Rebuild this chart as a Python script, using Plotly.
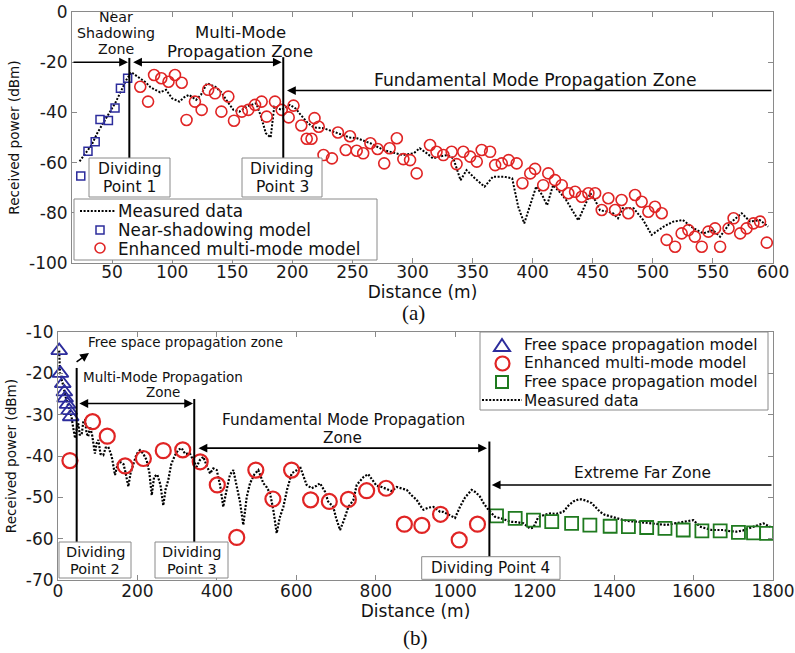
import plotly.graph_objects as go

# ---------------- data: panel (a) ----------------
a_meas_x = [23, 28, 33, 38, 43, 48, 53, 58, 62, 66, 73, 78, 82, 86, 90, 95, 100, 106, 110, 114, 120, 124, 129,
            136, 141, 145, 151, 156, 162, 166, 170, 174, 178, 182, 185, 191, 198, 203, 206, 213, 218, 226, 237,
            248, 254, 262, 265, 276, 286, 292, 301, 306, 312, 317, 323, 329, 334, 340, 345, 352, 360, 367, 376,
            383, 388, 393, 403, 408, 412, 417, 423, 428, 438, 448, 452, 456, 462, 467, 471, 475, 484, 492, 499,
            509, 517, 525, 534, 542, 550, 556, 564, 574, 581, 589, 596]
a_meas_y = [-59.5, -56, -53, -48, -44, -40, -36, -31, -27, -24, -26.4, -28, -30, -31, -32, -31, -34.4, -35.7, -34,
            -33, -35, -33, -28.4, -29.8, -32, -35, -39, -39.7, -37.7, -37, -36.4, -41.7, -48.3, -50, -37.7, -39,
            -37, -38.5, -40.4, -44.3, -46, -46.3, -48.3, -50, -50.3, -51.7, -52.3, -55, -56.3, -57, -56.3, -54.3,
            -56.3, -58.3, -57.5, -57, -58.3, -67, -63, -66.3, -69.6, -65.6, -65.6, -66.3, -77.6, -84.2, -69.5,
            -73, -77, -69, -72, -75, -83, -72.2, -75, -79, -79.5, -80.2, -82.2, -78.2, -78.2, -82.9, -88.8, -85.5,
            -83.5, -82.9, -86.2, -88.2, -86.9, -89.5, -84.2, -80.2, -83.5, -82.9, -85.5]

a_near_x = [24, 30, 36, 40, 47, 52.5, 57, 63]
a_near_y = [-65.3, -55.5, -51.7, -42.8, -43.2, -38.2, -30.4, -26.4]

a_mm_x = [73.5, 80, 85, 91, 97, 102.4, 108, 112, 119, 124.6, 130, 135.7, 141, 146.8, 151.5, 158, 163.4, 169,
          174.5, 178.7, 185.6, 191.2, 197, 201, 207.5, 212, 216, 218.5, 222, 226, 233, 238, 244.5, 248, 253.6,
          259, 265, 271, 276.5, 281, 287, 292.4, 298, 303.5, 314.6, 320, 325.7, 332.6, 336.7, 342.3, 348, 353.5,
          357.6, 364.6, 368.8, 374.3, 380, 386.7, 391.5, 398, 402, 408.8, 413, 418.6, 424.2, 429.7, 435.3, 440.8,
          446.4, 452, 457.5, 463, 468.6, 474, 479.6, 485.2, 490.7, 496.3, 501.8, 507.4, 511.5, 518.5, 524, 529.6,
          535, 540.7, 546.2, 551.8, 556, 563, 567.2, 572.7, 578, 583.7, 589.2, 594.8]
a_mm_y = [-29.8, -35.7, -25.1, -26.4, -27.8, -25.1, -28.2, -43, -35.7, -39, -31, -32.4, -39.7, -33.7, -43.3, -39.7,
          -39, -37, -35.7, -41.7, -35.7, -39, -42, -37.3, -45.2, -50.5, -50.5, -42.3, -45.7, -57, -58.3, -48, -55,
          -49.5, -55.3, -56.3, -52.3, -54.6, -60.3, -54.3, -50.3, -58.6, -59, -64.3, -53, -55.7, -57, -55.7, -60.6,
          -55.7, -57.6, -59.6, -55, -55.7, -61, -60.3, -59, -60.3, -68.2, -64.3, -62.5, -69, -64.3, -67, -69,
          -72.2, -71.6, -73.6, -72.2, -72.2, -78.9, -74.2, -78.9, -74.9, -80.2, -72.9, -75.6, -79.6, -77.6, -80.2,
          -90.8, -93.5, -88.2, -86.9, -89.5, -93.5, -87.5, -86.2, -93.5, -86.2, -82.2, -88.2, -86.2, -84.2, -83.5,
          -91.9]

a_x_ticks = [50, 100, 150, 200, 250, 300, 350, 400, 450, 500, 550, 600]
a_y_ticks = [0, -20, -40, -60, -80, -100]
a_dividers = [64.4, 192.5]

# ---------------- data: panel (b) ----------------
b_meas_x = [3, 5, 12, 16, 20, 25, 30, 34, 38, 43, 47, 51, 55, 60, 64, 68, 72, 76, 80.6, 86, 93, 97, 101.5, 107,
            114, 120, 126.6, 135, 143.5, 150, 156, 165, 170, 177, 183, 189.6, 198, 206.4, 215, 223, 230, 236, 242,
            250, 258, 265, 271, 277.7, 285, 294.6, 303, 311.4, 320, 332, 340, 349, 357, 365.8, 375, 382.7, 391,
            399.5, 408, 416, 425, 433, 441.4, 450, 458, 466.5, 475, 483.4, 494, 504.3, 510, 517, 525, 533.7, 542,
            550.5, 558, 567.3, 577, 588.3, 600, 609, 626, 638.7, 651, 659.6, 672, 680, 693, 700, 710, 720, 731,
            743.5, 752, 760, 770, 781, 792, 802, 815, 827.5, 840, 852.7, 865, 878, 890, 903, 912, 920, 932, 945,
            955, 962, 970, 978.6, 990, 999.5, 1012, 1025, 1041.5, 1052, 1062, 1072, 1083.4, 1100, 1120, 1138,
            1155, 1171.5, 1188, 1196.6, 1209, 1225, 1239, 1255, 1272, 1285, 1297.5, 1310, 1318.5, 1330, 1343.6,
            1355, 1364.5, 1376, 1389.7, 1405, 1423, 1440, 1457, 1473, 1490, 1510, 1532, 1553, 1574, 1590, 1599.5,
            1616, 1630, 1645.7, 1660, 1675, 1692, 1708.6, 1725, 1742, 1760, 1775.7, 1792.6]
b_meas_y = [-14.5, -20, -22.5, -24.5, -26, -27.5, -29, -30.5, -33, -35.7, -33.5, -32.1, -35, -34.5, -31.5, -31.3,
            -34.5, -35.3, -32.9, -35, -39.4, -37, -36.1, -39.5, -39.8, -38, -37.8, -40, -44.6, -42, -41.4, -42,
            -44, -47.4, -44, -41.8, -39.5, -38.6, -39.5, -41, -44, -49.5, -45, -44.5, -47, -52, -48, -45.8, -42,
            -39.8, -38.5, -38.1, -39.5, -39.4, -41, -42.6, -41, -40.2, -42.5, -44.2, -43, -43.4, -47, -52.3, -48,
            -44.5, -43.4, -47, -51, -56.7, -50, -46.6, -44.5, -43.4, -45, -46.6, -47.5, -49, -53, -58.7, -55,
            -52.3, -48, -44.2, -43.5, -42.5, -47, -47.8, -47.2, -46.6, -48.6, -51, -52.3, -55, -57.9, -55.5,
            -52.3, -50.7, -47, -46, -45, -44.4, -46, -47.2, -47.5, -48, -48.5, -47.5, -47.8, -48.2, -49.5, -50.6,
            -52, -53, -52.5, -52.3, -53, -53.5, -53.5, -53.9, -54.5, -55, -52.3, -50, -48.2, -48.8, -49.8, -51.5,
            -53, -54.7, -55.2, -55.9, -56, -56.3, -57.5, -57.3, -54.8, -54.2, -53.9, -54, -53.5, -52, -51, -50.5,
            -50.5, -50.8, -51.4, -52.5, -53.5, -54.2, -54.5, -55, -55.5, -55.8, -55.9, -56.1, -56.3, -56.5, -56.7,
            -56.3, -55.9, -55.6, -55.5, -57.1, -57.5, -57.9, -57.9, -57.9, -58.2, -58.3, -58, -57.5, -56.8, -56.3,
            -57.1]

b_free_x = [3, 6, 12, 16, 18, 24, 28, 32]
b_free_y = [-14.5, -20, -22.5, -24.5, -26, -27.5, -29, -30.5]

b_mm_x = [30, 87, 124, 169, 215, 265, 314, 358, 401, 450, 498, 541, 588, 636, 683, 731, 777, 826, 872, 916, 963,
          1010, 1056]
b_mm_y = [-41.1, -31.7, -35.2, -42.4, -40.6, -38.7, -38.5, -41.4, -47, -59.7, -43.4, -50.4, -43.4, -50.6, -51,
          -50.5, -48.4, -47.8, -56.5, -56.8, -54.1, -60.3, -56.5]

b_far_x = [1104, 1151, 1197, 1243, 1293, 1339, 1390, 1436, 1482, 1528, 1574, 1621, 1667, 1713, 1751, 1784]
b_far_y = [-54.5, -55.1, -55.5, -55.9, -56.3, -56.7, -57, -57.1, -57.3, -57.5, -57.9, -58.1, -58.1, -58.5, -58.6,
           -58.7]

b_x_ticks = [0, 200, 400, 600, 800, 1000, 1200, 1400, 1600, 1800]
b_y_ticks = [-10, -20, -30, -40, -50, -60, -70]
b_dividers = [47, 343, 1086]

# ---------------- styling ----------------
OFF = 0
W, H = 795, 653
FONT = "DejaVu Sans"
RED = "#e02424"
BLUE = "#2c2c9c"
GREEN = "#1f7a1f"
GRAY = "#8a8a8a"
DOTS = "2px,1.6px"


def P(px, py):
    """screen pixel -> paper coords"""
    return (px - OFF) / W, 1 - (py - OFF) / H


def dx(p0, p1):
    return [P(p0, 0)[0], P(p1, 0)[0]]


def dy(top, bottom):
    return [P(0, bottom)[1], P(0, top)[1]]


fig = go.Figure()

fig.add_trace(go.Scatter(x=a_meas_x, y=a_meas_y, mode="lines", name="Measured data",
                         line=dict(color="black", width=2, dash=DOTS), xaxis="x", yaxis="y"))
fig.add_trace(go.Scatter(x=a_near_x, y=a_near_y, mode="markers", name="Near-shadowing model",
                         marker=dict(symbol="square-open", size=8, color=BLUE, line=dict(width=1.5)),
                         xaxis="x", yaxis="y"))
fig.add_trace(go.Scatter(x=a_mm_x, y=a_mm_y, mode="markers", name="Enhanced multi-mode model",
                         marker=dict(symbol="circle-open", size=11, color=RED, line=dict(width=1.6)),
                         xaxis="x", yaxis="y"))

fig.add_trace(go.Scatter(x=b_meas_x, y=b_meas_y, mode="lines", name="Measured data",
                         line=dict(color="black", width=2.2, dash=DOTS), xaxis="x2", yaxis="y2"))
fig.add_trace(go.Scatter(x=b_free_x, y=b_free_y, mode="markers", name="Free space propagation model",
                         marker=dict(symbol="triangle-up-open", size=14, color=BLUE, line=dict(width=1.8)),
                         cliponaxis=False, xaxis="x2", yaxis="y2"))
fig.add_trace(go.Scatter(x=b_mm_x, y=b_mm_y, mode="markers", name="Enhanced multi-mode model",
                         marker=dict(symbol="circle-open", size=15, color=RED, line=dict(width=2.2)),
                         xaxis="x2", yaxis="y2"))
fig.add_trace(go.Scatter(x=b_far_x, y=b_far_y, mode="markers", name="Free space propagation model",
                         marker=dict(symbol="square-open", size=13, color=GREEN, line=dict(width=1.8)),
                         xaxis="x2", yaxis="y2"))

axis_common = dict(showline=True, linecolor=GRAY, linewidth=1, mirror="ticks", ticks="inside", ticklen=5,
                   tickcolor=GRAY, showgrid=False, zeroline=False, automargin=False,
                   tickfont=dict(family=FONT, size=17, color="#1a1a1a"))

fig.update_layout(
    width=W, height=H, showlegend=False,
    margin=dict(l=0, r=0, t=0, b=0, autoexpand=False),
    paper_bgcolor="white", plot_bgcolor="white",
    font=dict(family=FONT, color="#111"),
    xaxis=dict(axis_common, domain=dx(72, 773), range=[16.7, 600], tickvals=a_x_ticks, anchor="y",
               ticklabelstandoff=-6,
               title=dict(text="Distance (m)", font=dict(size=17), standoff=0)),
    yaxis=dict(axis_common, domain=dy(12, 263), range=[-100, 0], tickvals=a_y_ticks,
               ticktext=[str(v) for v in a_y_ticks], anchor="x",
               title=dict(text="Received power (dBm)", font=dict(size=13.6), standoff=6)),
    xaxis2=dict(axis_common, domain=dx(58, 773), range=[0, 1800], tickvals=b_x_ticks, anchor="y2",
                ticklabelstandoff=-4,
                title=dict(text="Distance (m)", font=dict(size=17), standoff=0)),
    yaxis2=dict(axis_common, domain=dy(332, 580), range=[-70, -10], tickvals=b_y_ticks,
                ticktext=[str(v) for v in b_y_ticks], anchor="x2",
                title=dict(text="Received power (dBm)", font=dict(size=13.6), standoff=6)),
)

shapes = []
ann = []

# dividing lines
shapes.append(dict(type="line", xref="x", yref="y", x0=a_dividers[0], x1=a_dividers[0], y0=-18.3, y1=-58.2,
                   line=dict(color="black", width=2)))
shapes.append(dict(type="line", xref="x", yref="y", x0=a_dividers[1], x1=a_dividers[1], y0=-18.0, y1=-58.2,
                   line=dict(color="black", width=2)))
shapes.append(dict(type="line", xref="x2", yref="y2", x0=b_dividers[0], x1=b_dividers[0], y0=-18.7, y1=-60.8,
                   line=dict(color="black", width=2)))
shapes.append(dict(type="line", xref="x2", yref="y2", x0=b_dividers[1], x1=b_dividers[1], y0=-26.2, y1=-60.8,
                   line=dict(color="black", width=2)))
shapes.append(dict(type="line", xref="x2", yref="y2", x0=b_dividers[2], x1=b_dividers[2], y0=-36.5, y1=-64.4,
                   line=dict(color="black", width=2)))


def box(x0, y0, x1, y1):
    a0, b0 = P(x0, y0)
    a1, b1 = P(x1, y1)
    shapes.append(dict(type="rect", xref="paper", yref="paper", x0=a0, x1=a1, y0=b1, y1=b0,
                       line=dict(color=GRAY, width=1), fillcolor="white", layer="above"))


def text(s, px, py, size, anchor="center", family=FONT):
    x, y = P(px, py)
    ann.append(dict(text=s, x=x, y=y, xref="paper", yref="paper", showarrow=False, xanchor=anchor,
                    yanchor="middle", borderpad=0, font=dict(family=family, size=size, color="#111")))


def arrow(xr, yr, hx, hy, tx, ty, both=False):
    ann.append(dict(text="", x=hx, y=hy, ax=tx, ay=ty, xref=xr, yref=yr, axref=xr, ayref=yr, showarrow=True,
                    arrowhead=2, arrowsize=1.1, arrowwidth=1.6, arrowcolor="black",
                    arrowside="end+start" if both else "end", standoff=0, startstandoff=0))


# panel (a) arrows
arrow("x", "y", 63.3, -20, 16.7, -20)
arrow("x", "y", 191.2, -20, 66.3, -20, both=True)
arrow("x", "y", 195.6, -31.3, 600, -31.3)
# panel (b) arrows
arrow("x2", "y2", 78, -15.1, 43, -17.5)
arrow("x2", "y2", 340, -27.3, 50, -27.3, both=True)
arrow("x2", "y2", 1080, -38.1, 350, -38.1, both=True)
arrow("x2", "y2", 1092, -47, 1800, -47)

# panel (a) texts
text("Near", 115.5, 17, 14.2)
text("Shadowing", 115.5, 33.3, 14.2)
text("Zone", 115.5, 49.5, 14.2)
text("Multi-Mode", 240, 32.5, 16.5)
text("Propagation Zone", 240, 52, 16.5)
text("Fundamental Mode Propagation Zone", 535, 80, 17.2)
box(89, 158, 170, 197)
text("Dividing", 130, 168.5, 15.5)
text("Point 1", 129, 187, 15.5)
box(242, 158, 322, 197)
text("Dividing", 282, 168.5, 15.5)
text("Point 3", 282, 187, 15.5)

# panel (a) legend
box(74, 199, 377, 260)
l0, r0 = P(80, 211), P(115, 211)
shapes.append(dict(type="line", xref="paper", yref="paper", x0=l0[0], x1=r0[0], y0=l0[1], y1=r0[1],
                   line=dict(color="black", width=2, dash=DOTS)))
s0, s1 = P(96, 226), P(104, 234)
shapes.append(dict(type="rect", xref="paper", yref="paper", x0=s0[0], x1=s1[0], y0=s1[1], y1=s0[1],
                   line=dict(color=BLUE, width=1.5)))
c0, c1 = P(95, 243), P(105, 253)
shapes.append(dict(type="circle", xref="paper", yref="paper", x0=c0[0], x1=c1[0], y0=c1[1], y1=c0[1],
                   line=dict(color=RED, width=1.6)))
text("Measured data", 117, 211, 16.8, anchor="left")
text("Near-shadowing model", 117, 230, 16.8, anchor="left")
text("Enhanced multi-mode model", 117, 249, 16.8, anchor="left")

text("(a)", 413, 313, 21, family="Liberation Serif")

# panel (b) texts
text("Free space propagation zone", 87, 342, 13.5, anchor="left")
text("Multi-Mode Propagation", 163, 376.5, 13.5)
text("Zone", 163, 392.5, 13.5)
text("Fundamental Mode Propagation", 343, 420, 15.3)
text("Zone", 342, 438, 15.3)
text("Extreme Far Zone", 642, 473, 15.4)
box(59, 542, 131, 578)
text("Dividing", 95, 551.5, 14.5)
text("Point 2", 95, 569, 14.5)
box(155, 542, 228, 578)
text("Dividing", 191.7, 551.5, 14.5)
text("Point 3", 191.7, 569, 14.5)
box(421.7, 556.7, 560, 579.3)
text("Dividing Point 4", 490, 567.5, 15.2)

# panel (b) legend
box(480, 332, 768, 410)
t1, t2, t3 = P(494, 351), P(510, 351), P(502, 339)
shapes.append(dict(type="path", xref="paper", yref="paper",
                   path=f"M {t1[0]},{t1[1]} L {t2[0]},{t2[1]} L {t3[0]},{t3[1]} Z",
                   line=dict(color=BLUE, width=2)))
c0, c1 = P(495.5, 356.5), P(509.5, 370.5)
shapes.append(dict(type="circle", xref="paper", yref="paper", x0=c0[0], x1=c1[0], y0=c1[1], y1=c0[1],
                   line=dict(color=RED, width=2.2)))
s0, s1 = P(496, 376), P(508, 388)
shapes.append(dict(type="rect", xref="paper", yref="paper", x0=s0[0], x1=s1[0], y0=s1[1], y1=s0[1],
                   line=dict(color=GREEN, width=2)))
l0, r0 = P(482, 400), P(522, 400)
shapes.append(dict(type="line", xref="paper", yref="paper", x0=l0[0], x1=r0[0], y0=l0[1], y1=r0[1],
                   line=dict(color="black", width=2, dash=DOTS)))
text("Free space propagation model", 523, 345, 15.4, anchor="left")
text("Enhanced multi-mode model", 523, 363.5, 15.4, anchor="left")
text("Free space propagation model", 523, 382, 15.4, anchor="left")
text("Measured data", 523, 400.5, 15.4, anchor="left")

text("(b)", 415, 638, 21, family="Liberation Serif")

fig.update_layout(shapes=shapes, annotations=ann)
# remove the default 8px page margin so the figure fills the window exactly; hide the mode bar
fig.write_html("out.html", config={"displayModeBar": False},
               post_script="document.body.style.margin='0';")
